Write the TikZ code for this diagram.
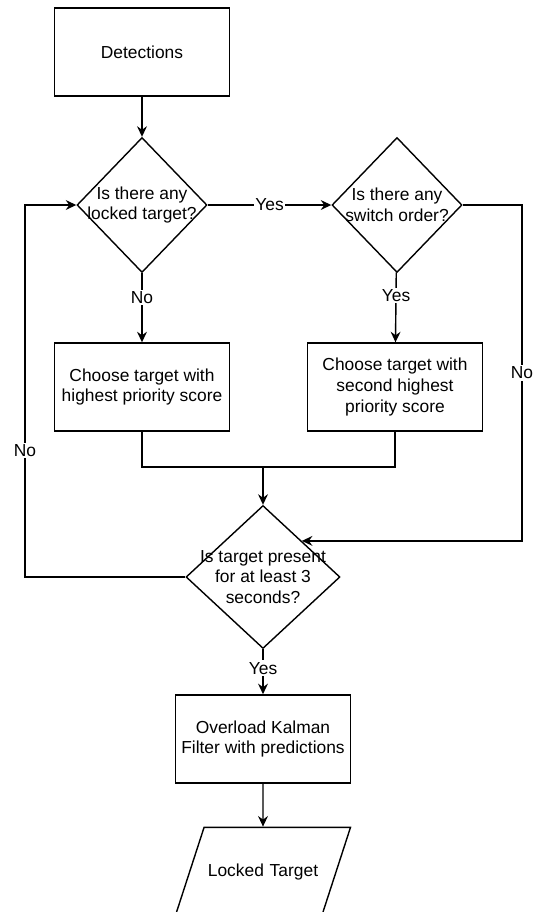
\documentclass[tikz,border=0pt]{standalone}
\usepackage{fontspec}
\setmainfont{Liberation Sans}
\usetikzlibrary{shapes.geometric, arrows.meta, positioning}

\begin{document}
\begin{tikzpicture}[node distance = 2cm, font=\fontsize{9.9pt}{11.8pt}\selectfont,
		process/.style = {draw, rectangle, align=center, minimum width=3.5cm, minimum height=1.76cm, line width=0.8pt},
		decision/.style = {draw, diamond, inner sep=0pt, minimum width=2.6cm, minimum height=2.7cm, line width=0.8pt},
		io/.style = {draw, trapezium, trapezium left angle=72, trapezium right angle=108, text width=2.356cm, align=center, text height=0.75em, text depth=0.2em, inner xsep=0pt, inner ysep=0.714cm, line width=0.8pt},
		flow/.style = {draw, line width=0.8pt},
		flowarrow/.style = {-{Stealth[length=6pt, width=5.6pt, inset=2pt]}},
		answer/.style = {fill=white, inner sep=1pt}]
		\useasboundingbox (0, 0) rectangle (10.78, -18.24);
		\node[process] (detections) at (2.84, -1.04) {Detections};
		\node[decision, label={[align=center]center:Is there any\\locked target?}] (locked) at (2.84, -4.1) {};
		\node[decision, label={[align=center]center:Is there any\\switch order?}] (switch) at (7.94, -4.1) {};
		\node[process] (highest) at (2.84, -7.74) {Choose target with\\highest priority score};
		\node[process] (second) at (7.9, -7.74) {Choose target with\\second highest\\priority score};
		\node[decision, minimum width=3.08cm, minimum height=2.86cm, label={[align=center]center:Is target present\\for at least 3\\seconds?}] (present) at (5.26, -11.54) {};
		\node[process, below = 0.9cm of present] (kalman) {Overload Kalman\\Filter with predictions};
		\node[io, below = 0.86cm of kalman] (locked-target) {Locked Target};
		\coordinate (merge) at (5.26, -9.34);
		\coordinate (right-turn) at (10.44, -4.1);
		\coordinate (left-turn) at (0.5, -11.54);
		\path [flow, flowarrow] (detections) -- (locked);
		\path [flow, flowarrow] (locked) -- node [answer] {Yes} (switch);
		\path [flow, flowarrow] (locked) -- node [answer, pos=0.35] {No} (highest);
		\path [flow, flowarrow] (switch) -- node [answer, pos=0.33] {Yes} (second);
		\path [flow] (highest) |- (merge);
		\path [flow] (second) |- (merge);
		\path [flow, flowarrow] (merge) -- (present);
		\path [flow, flowarrow] (switch) -- (right-turn) |- node [answer, pos=0.25] {No} (present.north east);
		\path [flow, flowarrow] (present) -- (left-turn) |- node [answer, pos=0.17] {No} (locked);
		\path [flow, flowarrow] (present) -- node [answer, pos=0.42] {Yes} (kalman);
		\path [flow, flowarrow] (kalman) -- (locked-target);
	\end{tikzpicture}
\end{document}
